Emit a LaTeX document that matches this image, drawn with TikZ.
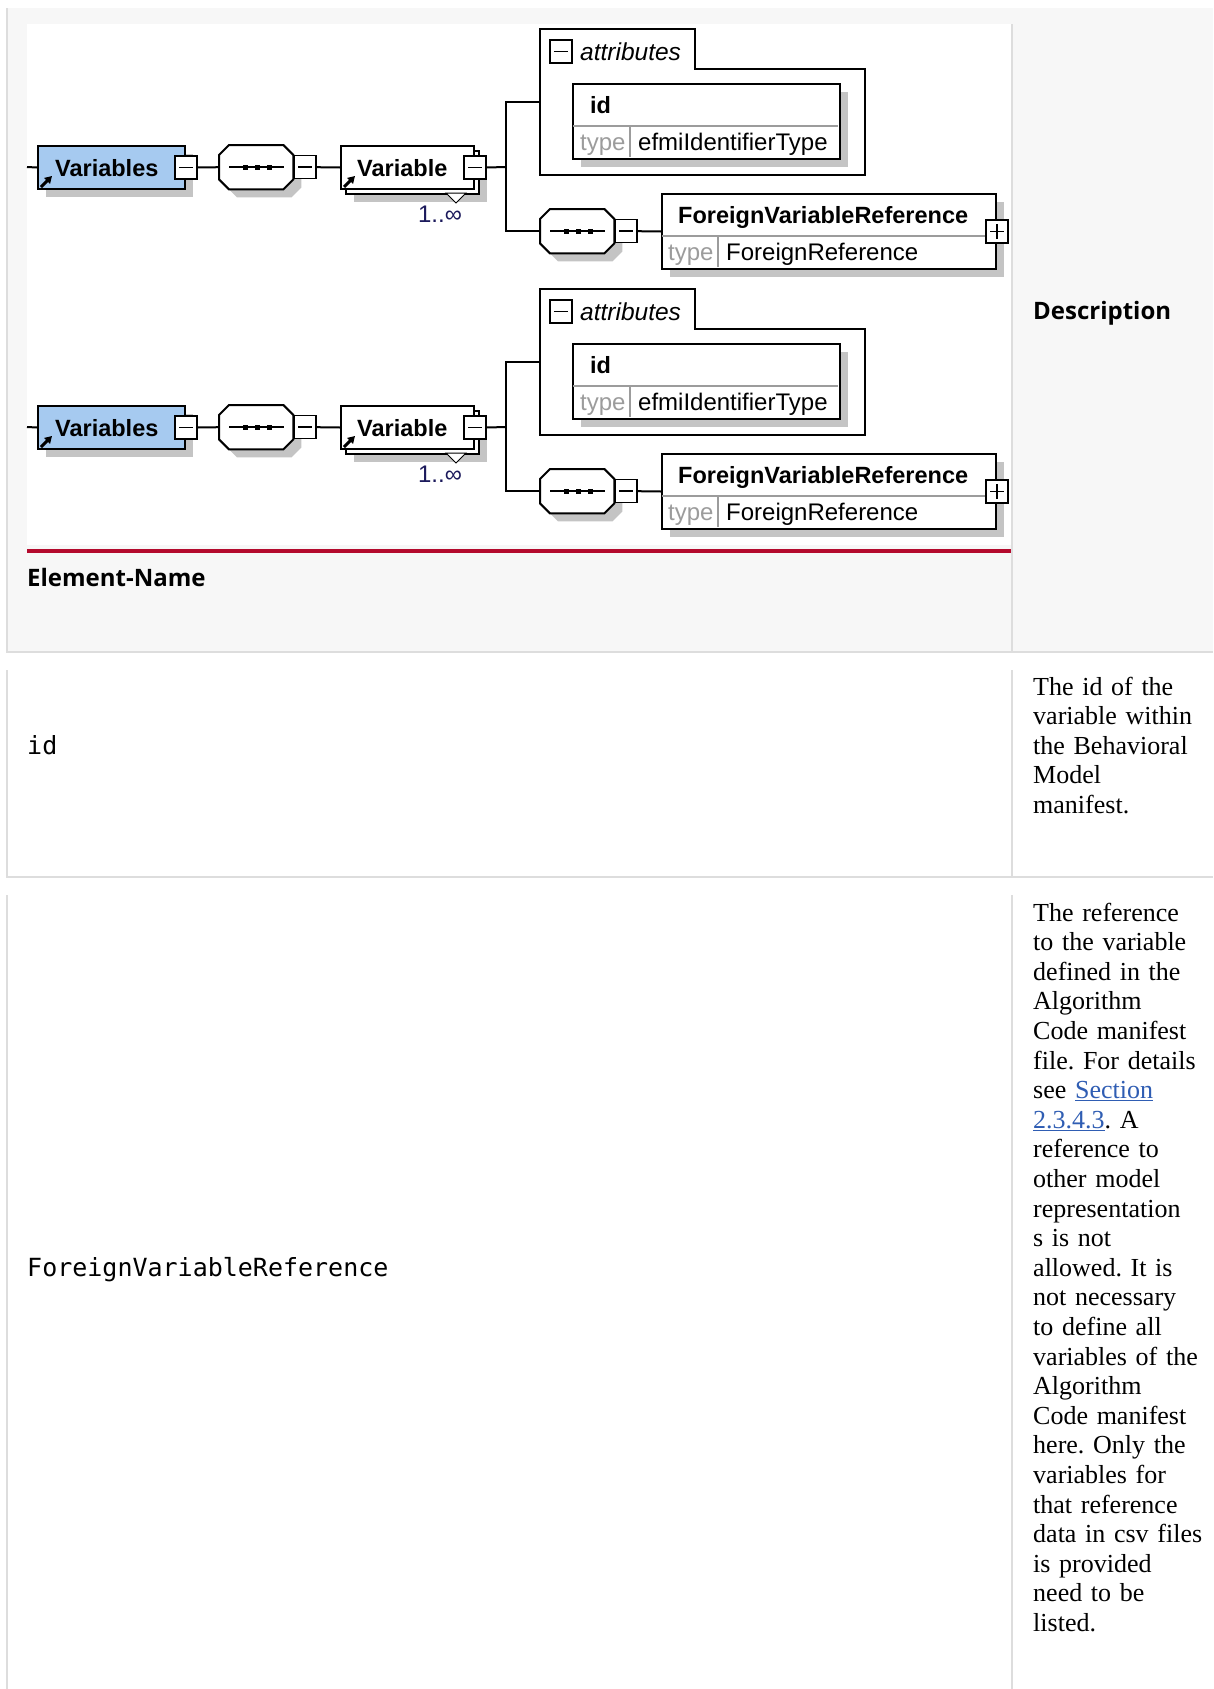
\documentclass[tikz,border=0pt]{standalone}
\usepackage{fontspec}
\usepackage{tikz}
\usetikzlibrary{positioning}
\usetikzlibrary{shadows}
\usetikzlibrary{arrows.meta}

\newfontfamily\xsdfont{Liberation Sans}
\newfontfamily\headfont{Open Sans}
\newfontfamily\descfont{Liberation Serif}
\newfontfamily\codefont{DejaVu Sans Mono}

\definecolor{headgray}{HTML}{F7F7F7}
\definecolor{rulegray}{HTML}{DDDDDD}
\definecolor{accentred}{HTML}{B40A2D}
\definecolor{globalblue}{HTML}{A6CAF0}
\definecolor{shadegray}{HTML}{C4C4C4}
\definecolor{typegray}{HTML}{9C9C9C}
\definecolor{occurnavy}{HTML}{1C1A5C}
\definecolor{linkblue}{HTML}{2F5DB3}

\newcommand{\seclink}[1]{{\color{linkblue}\underline{#1}}}
\newcommand{\seqshape}[1]{%
  \draw[line width=2pt, fill=white, dropshade] ([xshift=10pt]#1.north west) -- ([xshift=-10pt]#1.north east)
    -- ([yshift=-10pt]#1.north east) -- ([yshift=10pt]#1.south east) -- ([xshift=-10pt]#1.south east)
    -- ([xshift=10pt]#1.south west) -- ([yshift=10pt]#1.south west) -- ([yshift=-10pt]#1.north west) -- cycle;
  \draw[line width=2pt] ([xshift=-27pt]#1.center) -- ([xshift=28pt]#1.center);
  \foreach \dx in {-11,1,13} \fill ([xshift=\dx pt]#1.center) +(-2.5,-2.5) rectangle +(2.5,2.5);}

\tikzset{
  xsd/.style={draw, line width=2pt, fill=white, inner sep=0pt, anchor=north west},
  dropshade/.style={drop shadow={shadow xshift=#1, shadow yshift=-#1, fill=shadegray, opacity=1}},
  dropshade/.default=8pt,
  signbox/.style={draw, line width=1.5pt, fill=white, inner sep=0pt, minimum width=22pt, minimum height=23pt},
  minusbox/.style={signbox, path picture={
      \draw[black, line width=1.5pt] ([xshift=4pt]path picture bounding box.west) -- ([xshift=-4pt]path picture bounding box.east);}},
  plusbox/.style={signbox, path picture={
      \draw[black, line width=1.5pt] ([xshift=4pt]path picture bounding box.west) -- ([xshift=-4pt]path picture bounding box.east)
        ([yshift=4pt]path picture bounding box.south) -- ([yshift=-4pt]path picture bounding box.north);}},
  seqbox/.style={minimum width=74pt, minimum height=44pt, inner sep=0pt, anchor=north west},
  namelbl/.style={font=\xsdfont\bfseries\fontsize{23.5}{28}\selectfont, inner sep=0pt, anchor=base west},
  typelbl/.style={font=\xsdfont\fontsize{24}{28}\selectfont, inner sep=0pt, anchor=base west},
  conn/.style={line width=2pt},
  refarrow/.style={line width=3pt, -{Triangle[length=7pt, width=8pt]}},
  divider/.style={typegray, line width=1.5pt},
  cellrule/.style={rulegray, line width=1.5pt},
  headtext/.style={font=\headfont\bfseries\fontsize{24}{29}\selectfont, inner sep=0pt, anchor=base west},
  codetext/.style={font=\codefont\fontsize{25}{30}\selectfont, inner sep=0pt, anchor=base west},
  desctext/.style={font=\descfont\frenchspacing\fontsize{26}{29.6}\selectfont, inner sep=0pt, anchor=base west, text width=200pt, align=left}
}

\begin{document}
\begin{tikzpicture}[x=1pt, y=-1pt]
\useasboundingbox (0,0) rectangle (1213,1689);
\fill[white] (0,0) rectangle (1213,1689);
\fill[headgray] (7,8) rectangle (1213,652);
\fill[white] (27,24) rectangle (1012,545);
\fill[accentred] (27,549) rectangle (1012,553);
\draw[cellrule] (7,8) -- (7,652) -- (1213,652);
\draw[cellrule] (1012,24) -- (1012,652);
\draw[cellrule] (7,670) -- (7,877) -- (1213,877);
\draw[cellrule] (1012,670) -- (1012,877);
\draw[cellrule] (7,895) -- (7,1689);
\draw[cellrule] (1012,895) -- (1012,1689);

\foreach \s/\dy in {a/0,b/260}{
\begin{scope}[yshift=-\dy pt]
  \coordinate (stub\s) at (27,167);
  \node[xsd, fill=globalblue, minimum width=147pt, minimum height=43pt, dropshade] (vars\s) at (37,145) {};
  \node[minusbox] (varsmin\s) at (vars\s.east) {};
  \node[seqbox] (seq\s) at (219,145) {};
  \seqshape{seq\s}
  \node[minusbox, right=0pt of seq\s] (seqmin\s) {};
  \node[xsd, minimum width=133pt, minimum height=43pt, dropshade=13pt,
        copy shadow={shadow xshift=5pt, shadow yshift=-5pt, fill=white, draw=black, line width=2pt}] (var\s) at (340,145) {};
  \node[minusbox] (varmin\s) at (var\s.east) {};
  \draw[conn] (stub\s) -- (vars\s.west);
  \draw[conn] (varsmin\s.east) -- (seq\s.west);
  \draw[conn] (seqmin\s.east) -- (var\s.west);
  \draw[refarrow] ([shift={(4,-3)}]vars\s.south west) -- ++(11,-11);
  \draw[refarrow] ([shift={(4,-3)}]var\s.south west) -- ++(11,-11);
  \node[namelbl] (varslbl\s) at (55,176) {Variables};
  \node[namelbl] (varlbl\s) at (357,176) {Variable};
  \draw[line width=1pt, fill=white] (446,193) -- (466,193) -- (456,203) -- cycle;
  \node[typelbl, text=occurnavy, anchor=base] (occ\s) at (440,222) {1..∞};

  \node[minimum width=325pt, minimum height=146pt, inner sep=0pt, anchor=north west] (attr\s) at (540,29) {};
  \draw[conn] (attr\s.north west) -- ++(155,0) -- ++(0,40) -| (attr\s.south east) -- (attr\s.south west) -- cycle;
  \node[minusbox, below right=10pt and 9pt of attr\s.north west] (attrmin\s) {};
  \node[typelbl, font=\xsdfont\itshape\fontsize{24.5}{28}\selectfont] (attrlbl\s) at (580,60) {attributes};
  \node[xsd, minimum width=267pt, minimum height=75pt, dropshade] (idattr\s) at (572,83) {};
  \draw[divider] (573,126) -- (838,126) (630,126) -- (630,157);
  \node[namelbl] (idlbl\s) at (590,113) {id};
  \node[typelbl, text=typegray] (idtype\s) at (580,150) {type};
  \node[typelbl] (idtypename\s) at (638,150) {efmiIdentifierType};

  \node[seqbox] (fvrseq\s) at (540,209) {};
  \seqshape{fvrseq\s}
  \node[minusbox, right=0pt of fvrseq\s] (fvrseqmin\s) {};
  \node[xsd, minimum width=334pt, minimum height=75pt, dropshade] (fvr\s) at (661,193) {};
  \draw[divider] (662,236) -- (994,236) (718,236) -- (718,267);
  \node[plusbox] (fvrplus\s) at (fvr\s.east) {};
  \node[namelbl] (fvrlbl\s) at (678,223) {ForeignVariableReference};
  \node[typelbl, text=typegray] (fvrtype\s) at (668,260) {type};
  \node[typelbl] (fvrtypename\s) at (726,260) {ForeignReference};

  \coordinate (fork\s) at (506,167);
  \draw[conn] (varmin\s.east) -- (fork\s);
  \draw[conn] (attr\s.west) -| (fork\s) |- (fvrseq\s.west);
  \draw[conn] (fvrseqmin\s.east) -- (fvr\s.west);
\end{scope}
}

\node[headtext] (elemhead) at (27,586) {Element-Name};
\node[headtext] (deschead) at (1033,319) {Description};
\node[codetext] (idcode) at (27,754) {id};
\node[codetext] (fvrcode) at (27,1276) {ForeignVariableReference};
\node[desctext] (iddesc) at (1033,695) {The id of the\\variable within\\the Behavioral\\Model\\manifest.};
\node[desctext] (fvrdesc) at (1033,921) {The reference\\to the variable\\defined in the\\Algorithm\\Code manifest\\file. For details\\see \seclink{Section}\\\seclink{2.3.4.3}. A\\reference to\\other model\\representation\\s is not\\allowed. It is\\not necessary\\to define all\\variables of the\\Algorithm\\Code manifest\\here. Only the\\variables for\\that reference\\data in csv files\\is provided\\need to be\\listed.};
\end{tikzpicture}
\end{document}
